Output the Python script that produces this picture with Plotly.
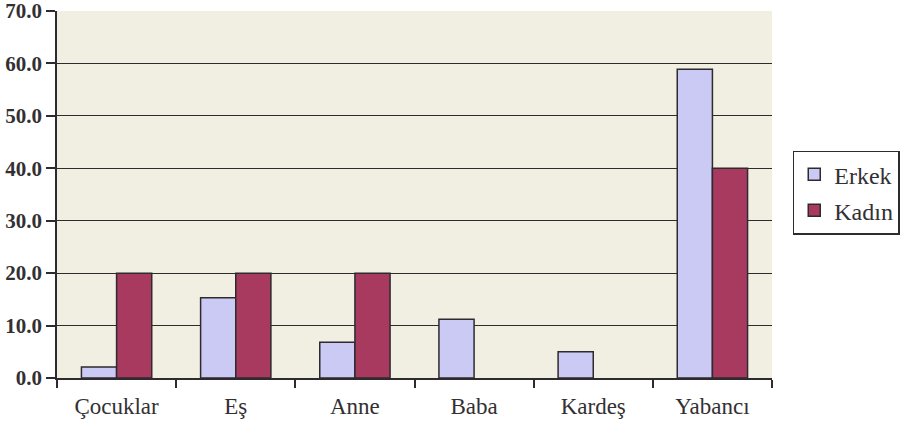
import plotly.graph_objects as go

categories = ["Çocuklar", "Eş", "Anne", "Baba", "Kardeş", "Yabancı"]
erkek = [2.1, 15.3, 6.8, 11.2, 5.0, 58.9]
kadin = [20.0, 20.0, 20.0, None, None, 40.0]
y_ticks = [0, 10, 20, 30, 40, 50, 60, 70]
y_tick_labels = ["0.0", "10.0", "20.0", "30.0", "40.0", "50.0", "60.0", "70.0"]

font_family = '"Liberation Serif", "Times New Roman", serif'
text_color = "#333033"
line_color = "#2e2a2e"

fig = go.Figure()
fig.add_trace(go.Bar(name="Erkek", x=categories, y=erkek, legendgroup="e",
                     marker=dict(color="#cbcaf4", line=dict(color=line_color, width=1.5))))
fig.add_trace(go.Bar(name="Kadın", x=categories, y=kadin, legendgroup="k",
                     marker=dict(color="#a83a5f", line=dict(color=line_color, width=1.5))))

fig.update_layout(
    width=906, height=425,
    margin=dict(l=57, r=134, t=11, b=47, autoexpand=False),
    paper_bgcolor="white",
    plot_bgcolor="#f1efe1",
    barmode="group",
    bargap=0.41,
    bargroupgap=0,
    font=dict(family=font_family, color=text_color),
    showlegend=True,
    legend=dict(xref="container", x=0.875, xanchor="left",
                yref="container", y=0.547, yanchor="middle",
                bordercolor=line_color, borderwidth=1.5, bgcolor="white",
                font=dict(size=24, family=font_family, color=text_color),
                tracegroupgap=2, itemwidth=30),
)
fig.update_xaxes(
    type="category", tickson="boundaries", ticks="outside", ticklen=8,
    tickcolor=line_color, tickwidth=1.5, showline=True, linecolor=line_color, linewidth=1.5,
    showgrid=False, automargin=False, ticklabelstandoff=7,
    tickfont=dict(size=23, family=font_family, color=text_color),
)
fig.update_yaxes(
    range=[0, 70], tickvals=y_ticks, ticktext=y_tick_labels,
    ticks="outside", ticklen=9, tickcolor=line_color, tickwidth=1.5,
    showline=True, linecolor=line_color, linewidth=1.5,
    showgrid=True, gridcolor=line_color, gridwidth=1.3,
    zeroline=False, automargin=False, ticklabeloverflow="allow",
    tickfont=dict(size=21, family=font_family, color=text_color, weight="bold"),
)

fig.write_html("out.html", config={"displayModeBar": False},
               post_script="document.body.style.margin='0';")
